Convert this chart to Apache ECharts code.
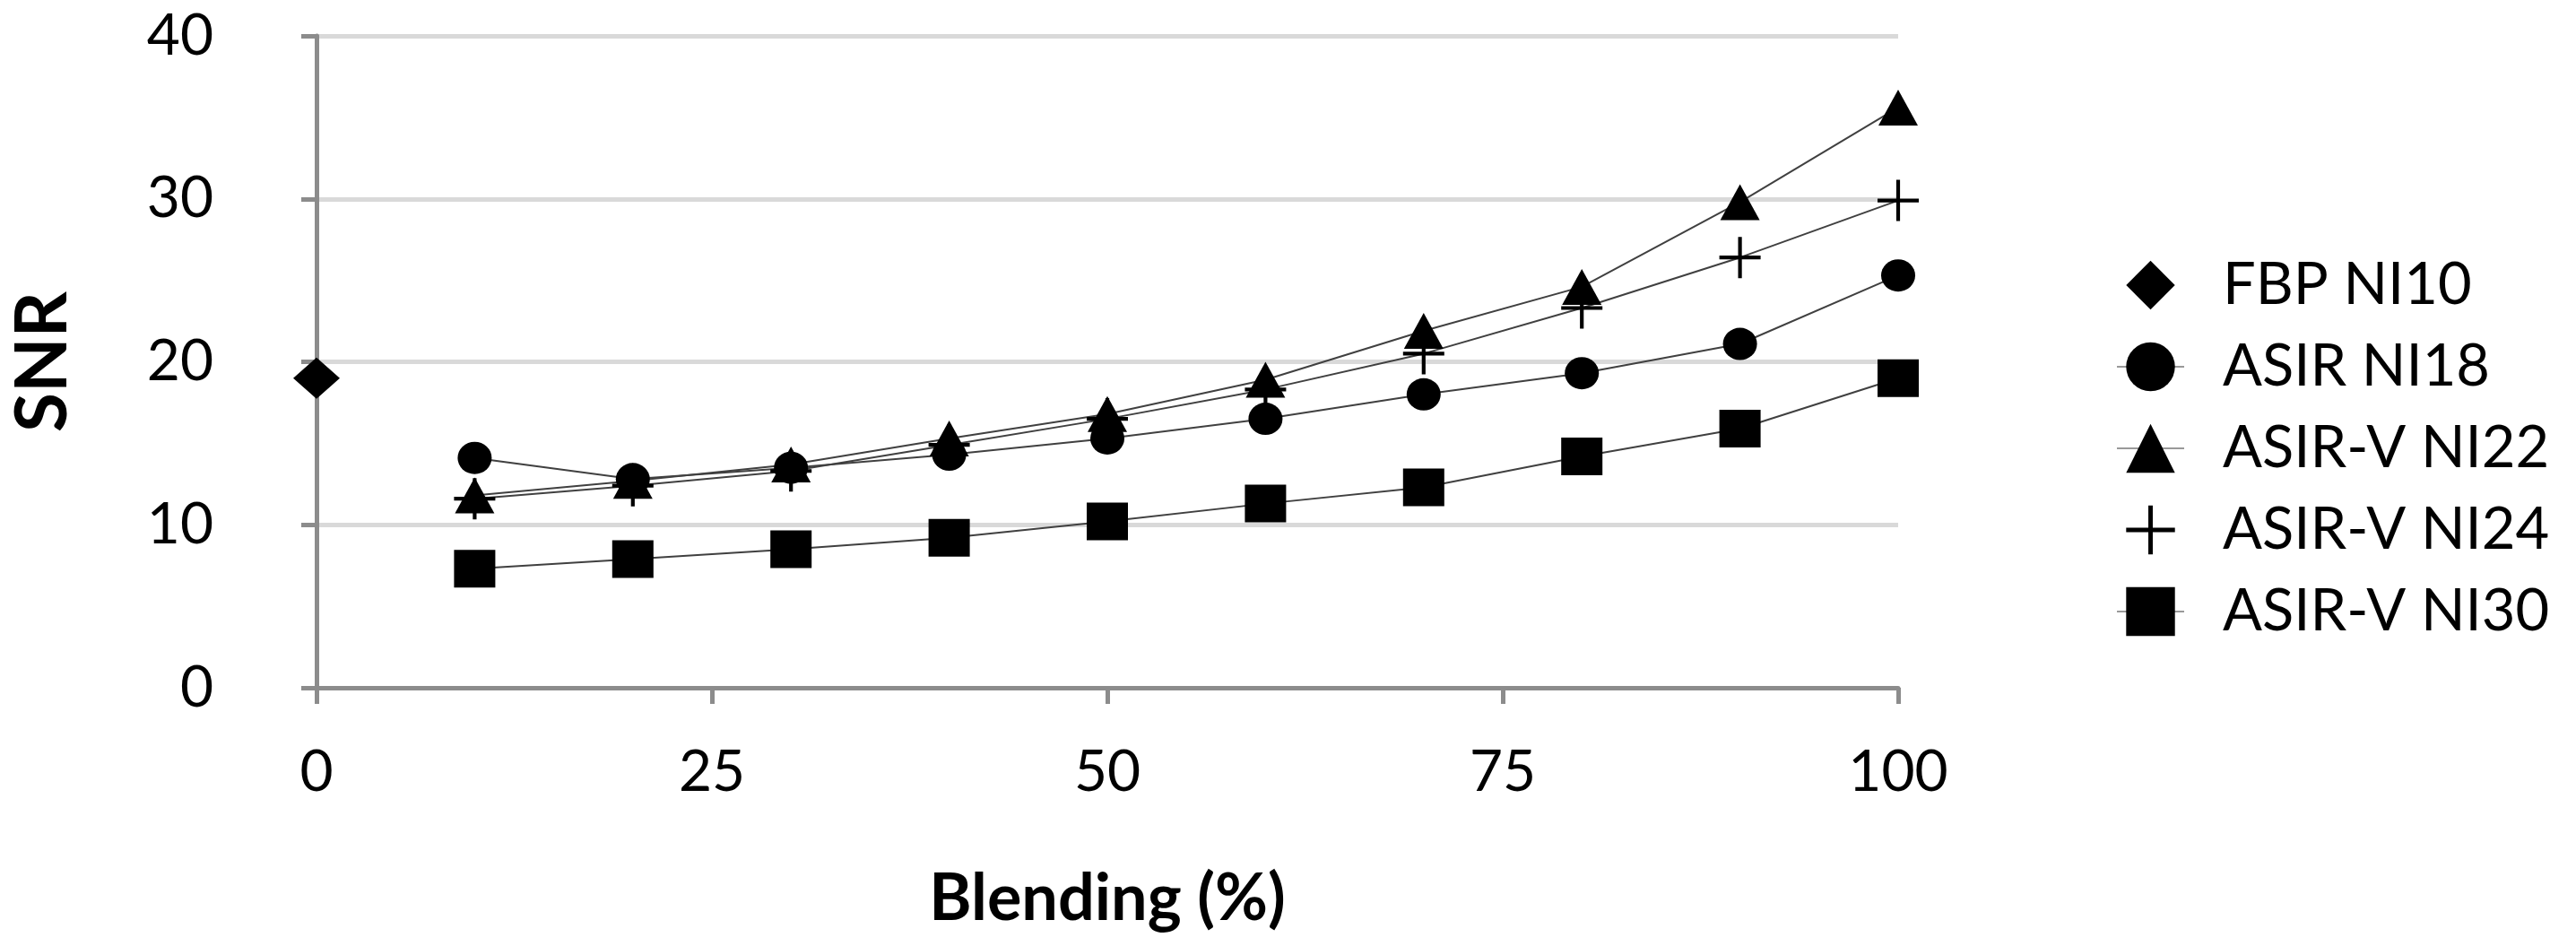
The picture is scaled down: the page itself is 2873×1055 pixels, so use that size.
<!DOCTYPE html>
<html>
<head>
<meta charset="utf-8">
<script src="https://cdn.jsdelivr.net/npm/echarts@6/dist/echarts.min.js"></script>
<style>
  html, body { margin: 0; padding: 0; background: #fff; }
  #chart { width: 2873px; height: 1055px; }
</style>
</head>
<body>
<div id="chart"></div>
<script>
// Data
const blending = [10, 20, 30, 40, 50, 60, 70, 80, 90, 100];
const fbpX = [0];
const fbpNI10 = [19.0];
const asirNI18 = [14.1, 12.8, 13.5, 14.3, 15.3, 16.5, 18.0, 19.3, 21.1, 25.3];
const asirvNI22 = [11.8, 12.7, 13.7, 15.3, 16.8, 18.9, 21.9, 24.6, 29.8, 35.6];
const asirvNI24 = [11.6, 12.4, 13.3, 14.9, 16.5, 18.3, 20.5, 23.3, 26.4, 29.9];
const asirvNI30 = [7.3, 7.9, 8.5, 9.2, 10.2, 11.3, 12.3, 14.2, 15.9, 19.0];
const seriesNames = ['FBP NI10', 'ASIR NI18', 'ASIR-V NI22', 'ASIR-V NI24', 'ASIR-V NI30'];

const pair = (xs, ys) => xs.map((x, i) => [x, ys[i]]);
const FONT = 'Lato';
const plusPath = 'path://M10,0h2v10h10v2h-10v10h-2v-10h-10v-2h10z';
const lineStyle = { color: '#404040', width: 2 };

const chart = echarts.init(document.getElementById('chart'), null, { renderer: 'canvas' });
chart.setOption({
  animation: false,
  backgroundColor: '#ffffff',
  grid: { left: 350, right: 756, top: 40, bottom: 288, containLabel: false },
  xAxis: {
    type: 'value', min: 0, max: 100, interval: 25,
    name: 'Blending (%)', nameLocation: 'middle', nameGap: 200,
    nameTextStyle: { fontFamily: FONT, fontWeight: 'bold', fontSize: 72, color: '#000' },
    axisLine: { show: true, onZero: false, lineStyle: { color: '#8c8c8c', width: 5 } },
    axisTick: { show: true, length: 18, lineStyle: { color: '#8c8c8c', width: 5 } },
    axisLabel: { margin: 62, fontFamily: FONT, fontSize: 64, color: '#000' },
    splitLine: { show: false }
  },
  yAxis: {
    type: 'value', min: 0, max: 40, interval: 10,
    name: 'SNR', nameLocation: 'middle', nameGap: 265, nameRotate: 90,
    nameTextStyle: { fontFamily: FONT, fontWeight: 'bold', fontSize: 80, color: '#000' },
    axisLine: { show: true, lineStyle: { color: '#8c8c8c', width: 5 } },
    axisTick: { show: true, length: 17, lineStyle: { color: '#8c8c8c', width: 5 } },
    axisLabel: { margin: 115, fontFamily: FONT, fontSize: 64, color: '#000' },
    splitLine: { show: true, lineStyle: { color: '#d9d9d9', width: 5 } }
  },
  legend: {
    orient: 'vertical', left: 2355, top: 279,
    itemWidth: 75, itemHeight: 68, itemGap: 23,
    textStyle: { fontFamily: FONT, fontSize: 65, lineHeight: 68, color: '#000', padding: [0, 0, 0, 38] },
    data: [
      { name: seriesNames[0], lineStyle: { width: 0 } },
      { name: seriesNames[1], lineStyle: { color: '#999', width: 2 } },
      { name: seriesNames[2], lineStyle: { color: '#999', width: 2 } },
      { name: seriesNames[3], lineStyle: { width: 0 } },
      { name: seriesNames[4], lineStyle: { color: '#999', width: 2 } }
    ]
  },
  series: [
    { name: seriesNames[0], type: 'line', data: pair(fbpX, fbpNI10),
      symbol: 'diamond', symbolSize: [52, 46], itemStyle: { color: '#000' }, lineStyle: lineStyle },
    { name: seriesNames[1], type: 'line', data: pair(blending, asirNI18),
      symbol: 'circle', symbolSize: [38, 36], itemStyle: { color: '#000' }, lineStyle: lineStyle },
    { name: seriesNames[2], type: 'line', data: pair(blending, asirvNI22),
      symbol: 'triangle', symbolSize: [44, 40], itemStyle: { color: '#000' }, lineStyle: lineStyle },
    { name: seriesNames[3], type: 'line', data: pair(blending, asirvNI24),
      symbol: plusPath, symbolSize: [46, 46], itemStyle: { color: '#000' }, lineStyle: lineStyle },
    { name: seriesNames[4], type: 'line', data: pair(blending, asirvNI30),
      symbol: 'rect', symbolSize: [46, 42], itemStyle: { color: '#000' }, lineStyle: lineStyle }
  ]
});
</script>
</body>
</html>
